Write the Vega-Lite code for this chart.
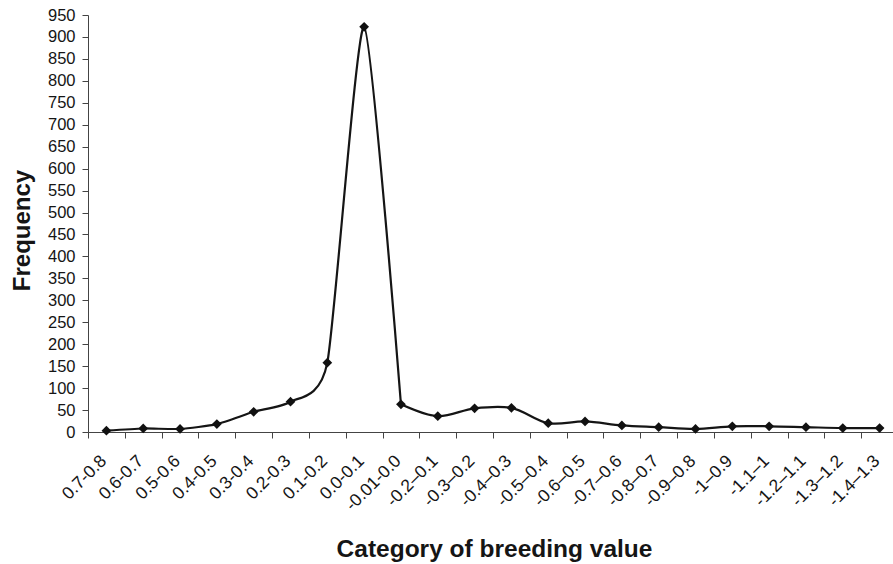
{
  "$schema": "https://vega.github.io/schema/vega-lite/v6.json",
  "autosize": {"type": "none"},
  "padding": {"left": 88, "top": 15, "right": 0, "bottom": 132},
  "width": 805,
  "height": 417,
  "background": "#ffffff",
  "config": {
    "view": {"stroke": null},
    "font": "Liberation Sans"
  },
  "data": {
    "values": [
      {"category": "0.7-0.8", "frequency": 3},
      {"category": "0.6-0.7", "frequency": 8},
      {"category": "0.5-0.6", "frequency": 7},
      {"category": "0.4-0.5", "frequency": 18},
      {"category": "0.3-0.4", "frequency": 46},
      {"category": "0.2-0.3", "frequency": 69},
      {"category": "0.1-0.2", "frequency": 158},
      {"category": "0.0-0.1", "frequency": 923},
      {"category": "-0.01-0.0", "frequency": 63},
      {"category": "-0.2–0.1", "frequency": 36},
      {"category": "-0.3–0.2", "frequency": 54},
      {"category": "-0.4–0.3", "frequency": 55},
      {"category": "-0.5–0.4", "frequency": 20},
      {"category": "-0.6–0.5", "frequency": 24},
      {"category": "-0.7–0.6", "frequency": 15},
      {"category": "-0.8–0.7", "frequency": 11},
      {"category": "-0.9–0.8", "frequency": 7},
      {"category": "-1–0.9", "frequency": 13},
      {"category": "-1.1–1", "frequency": 13},
      {"category": "-1.2–1.1", "frequency": 11},
      {"category": "-1.3–1.2", "frequency": 9},
      {"category": "-1.4–1.3", "frequency": 9}
    ]
  },
  "encoding": {
    "x": {
      "field": "category",
      "type": "ordinal",
      "sort": null,
      "scale": {
        "type": "band",
        "domain": ["0.7-0.8", "0.6-0.7", "0.5-0.6", "0.4-0.5", "0.3-0.4", "0.2-0.3", "0.1-0.2", "0.0-0.1", "-0.01-0.0", "-0.2–0.1", "-0.3–0.2", "-0.4–0.3", "-0.5–0.4", "-0.6–0.5", "-0.7–0.6", "-0.8–0.7", "-0.9–0.8", "-1–0.9", "-1.1–1", "-1.2–1.1", "-1.3–1.2", "-1.4–1.3"],
        "range": [0, 810],
        "paddingInner": 0,
        "paddingOuter": 0
      },
      "axis": {
        "title": "Category of breeding value",
        "titleFont": "Liberation Sans",
        "titleFontSize": 24.5,
        "titleFontWeight": "bold",
        "titleColor": "#151515",
        "titleX": 406,
        "titleY": 124,
        "titleAlign": "center",
        "titleBaseline": "alphabetic",
        "labelAngle": -45,
        "labelAlign": "right",
        "labelBaseline": "middle",
        "labelFontSize": 17.5,
        "labelColor": "#151515",
        "labelPadding": 20,
        "labelOffset": -3,
        "labelOverlap": false,
        "tickBand": "extent",
        "tickSize": 6,
        "tickColor": "#444444",
        "domainColor": "#444444",
        "grid": false
      }
    },
    "y": {
      "field": "frequency",
      "type": "quantitative",
      "scale": {"domain": [0, 950], "nice": false},
      "axis": {
        "title": "Frequency",
        "titleFont": "Liberation Sans",
        "titleFontSize": 24,
        "titleFontWeight": "bold",
        "titleColor": "#151515",
        "titleAngle": 270,
        "titleAlign": "center",
        "titleBaseline": "middle",
        "titleX": -66,
        "titleY": 215,
        "values": [0, 50, 100, 150, 200, 250, 300, 350, 400, 450, 500, 550, 600, 650, 700, 750, 800, 850, 900, 950],
        "labelFontSize": 16.5,
        "labelColor": "#151515",
        "labelPadding": 7,
        "tickSize": 6,
        "tickColor": "#444444",
        "domainColor": "#444444",
        "grid": false
      }
    }
  },
  "layer": [
    {
      "transform": [
        {"filter": {"field": "category", "oneOf": ["0.7-0.8", "0.6-0.7", "0.5-0.6", "0.4-0.5", "0.3-0.4", "0.2-0.3", "0.1-0.2", "0.0-0.1", "-0.01-0.0"]}}
      ],
      "mark": {"type": "line", "interpolate": "cardinal", "tension": 0.4, "color": "#151515", "strokeWidth": 2.2, "strokeJoin": "round"}
    },
    {
      "transform": [
        {"filter": {"field": "category", "oneOf": ["-0.01-0.0", "-0.2–0.1", "-0.3–0.2", "-0.4–0.3", "-0.5–0.4", "-0.6–0.5", "-0.7–0.6", "-0.8–0.7", "-0.9–0.8", "-1–0.9", "-1.1–1", "-1.2–1.1", "-1.3–1.2", "-1.4–1.3"]}}
      ],
      "mark": {"type": "line", "interpolate": "catmull-rom", "color": "#151515", "strokeWidth": 2.2, "strokeJoin": "round"}
    },
    {
      "mark": {"type": "point", "shape": "diamond", "filled": true, "size": 95, "color": "#111111", "opacity": 1}
    }
  ]
}
